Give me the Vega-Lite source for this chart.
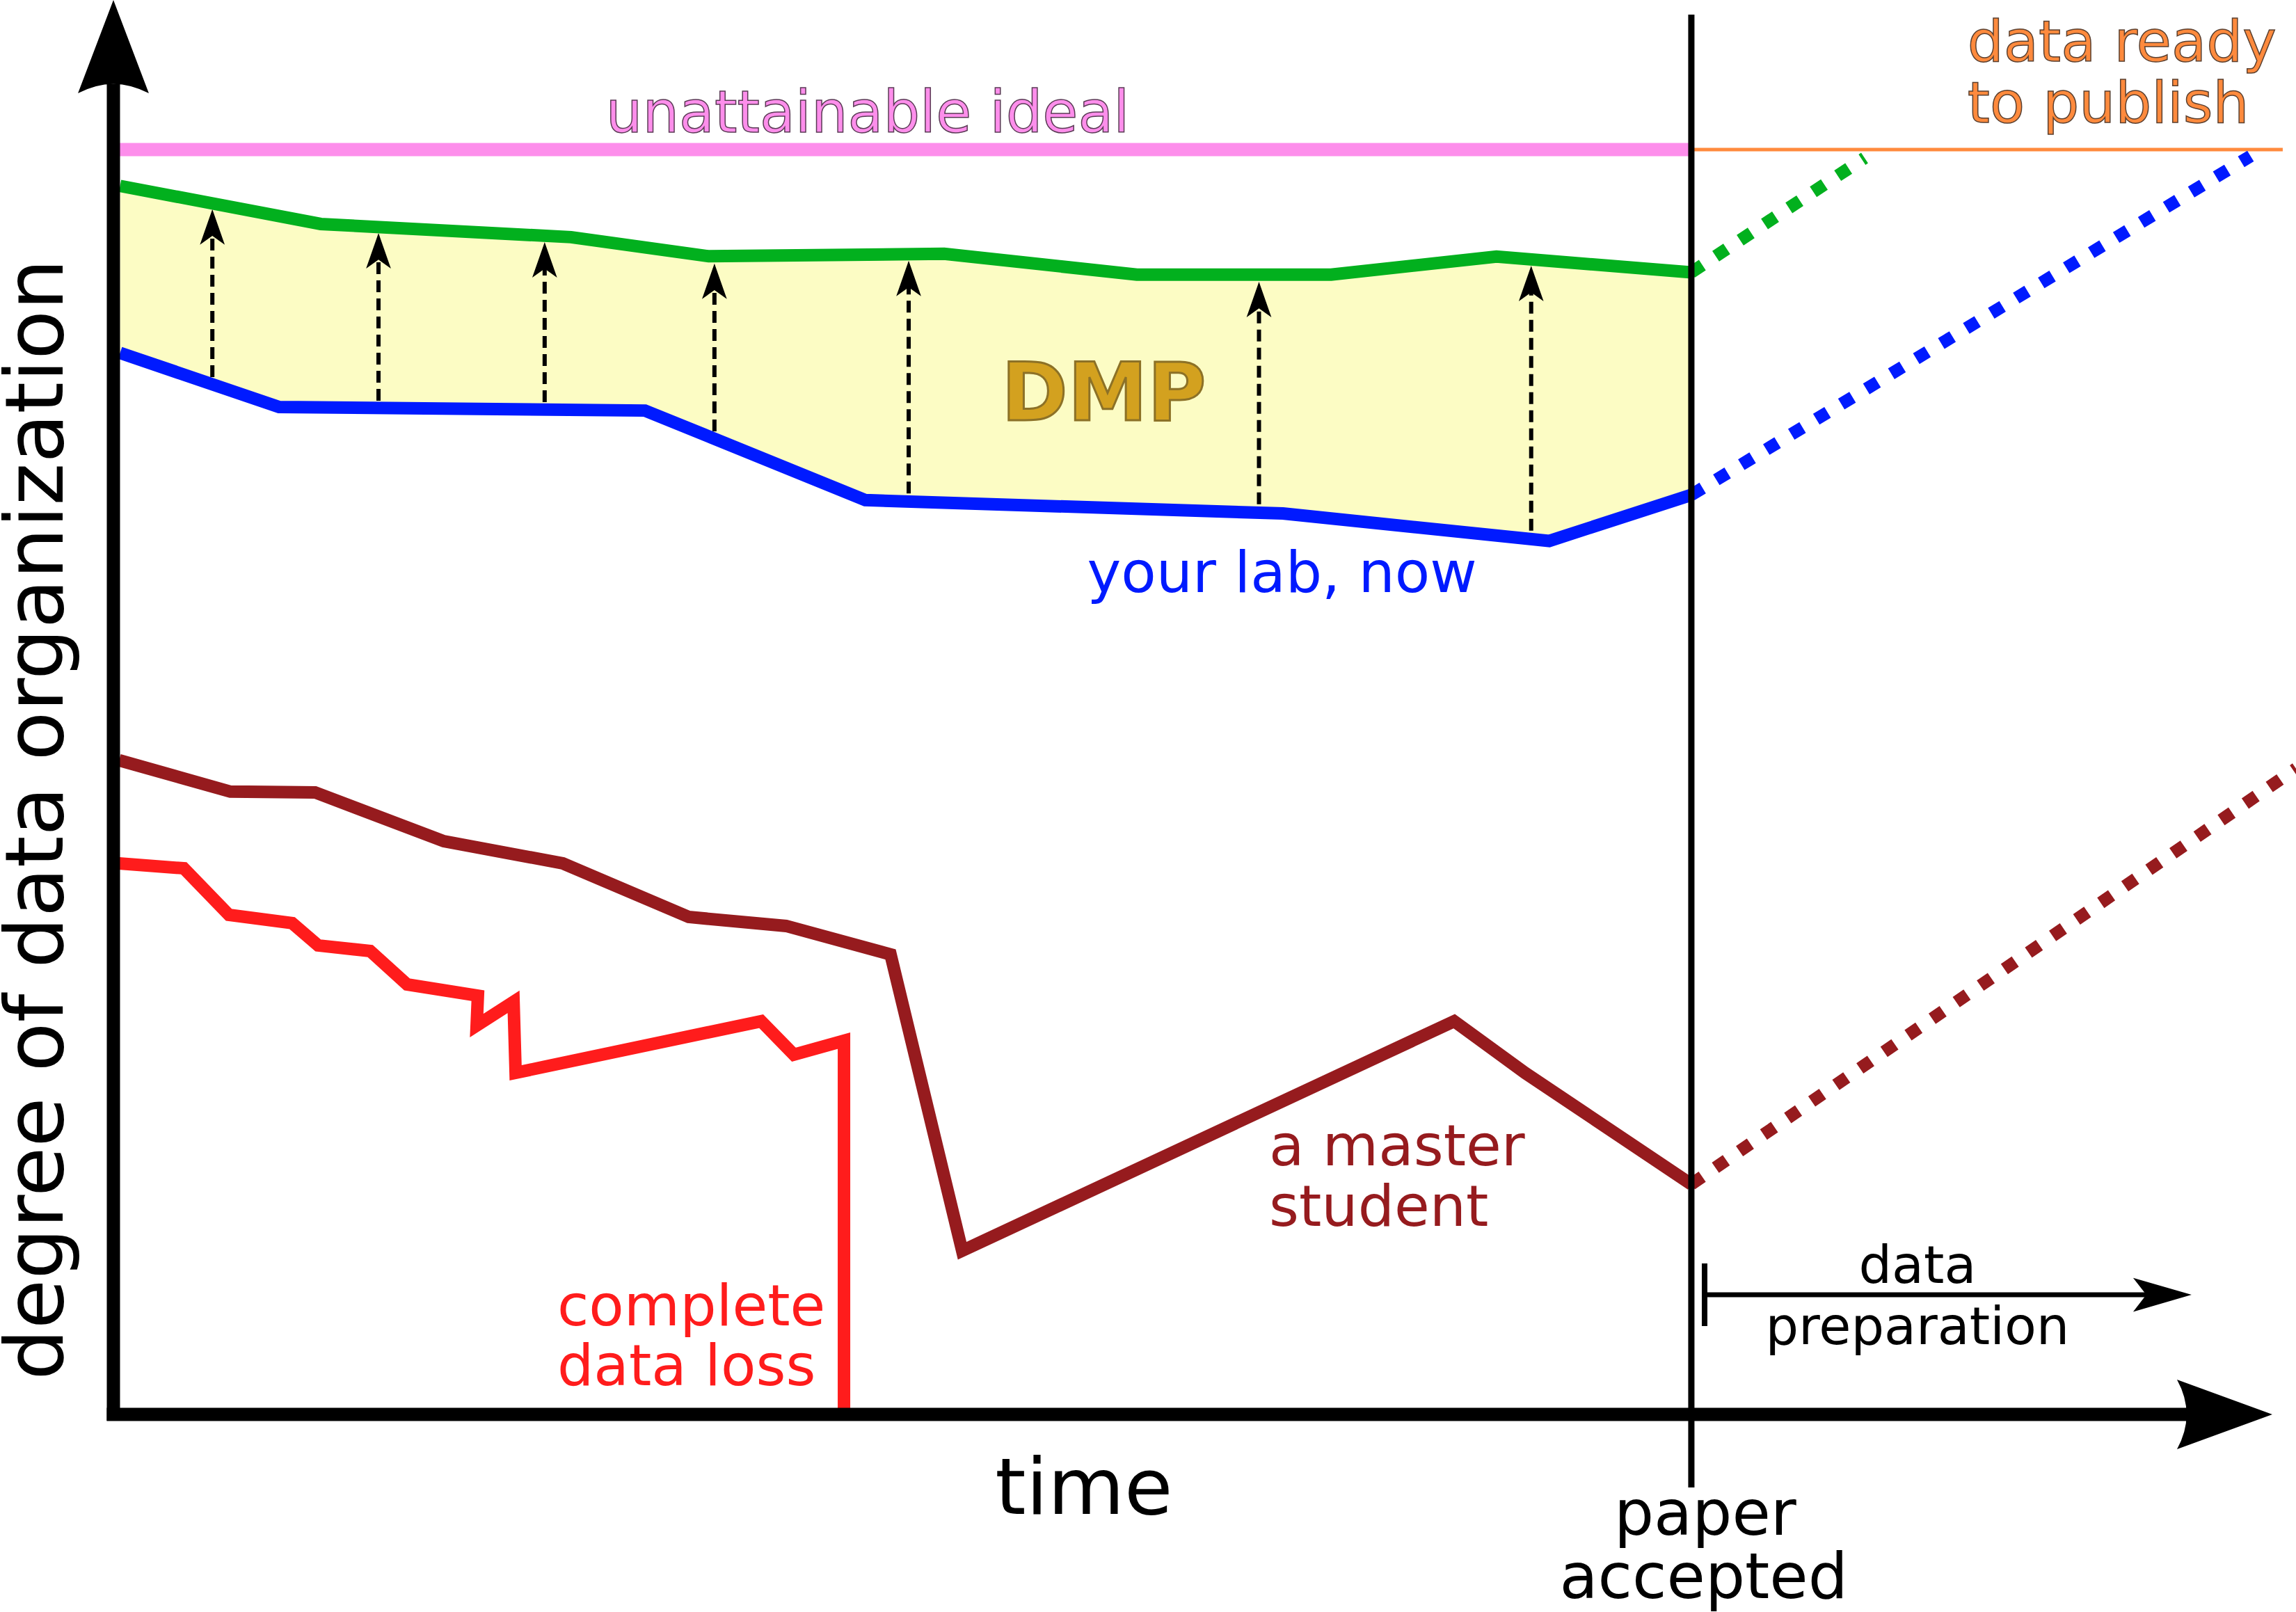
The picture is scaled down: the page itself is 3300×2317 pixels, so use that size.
{
  "$schema": "https://vega.github.io/schema/vega-lite/v6.json",
  "width": 3300,
  "height": 2317,
  "autosize": {"type": "none"},
  "padding": 0,
  "background": "white",
  "config": {"view": {"stroke": null}},
  "datasets": {
    "fill": [
      {"i": 0, "x": 0.42, "y": 97.13}, {"i": 1, "x": 13.14, "y": 94.12}, {"i": 2, "x": 29.0, "y": 93.08},
      {"i": 3, "x": 37.73, "y": 91.57}, {"i": 4, "x": 52.65, "y": 91.76}, {"i": 5, "x": 64.86, "y": 90.12},
      {"i": 6, "x": 77.17, "y": 90.12}, {"i": 7, "x": 87.65, "y": 91.54}, {"i": 8, "x": 100, "y": 90.3},
      {"i": 9, "x": 100, "y": 72.7}, {"i": 10, "x": 90.99, "y": 69.06}, {"i": 11, "x": 74.12, "y": 71.23},
      {"i": 12, "x": 47.65, "y": 72.29}, {"i": 13, "x": 33.69, "y": 79.37}, {"i": 14, "x": 10.5, "y": 79.65},
      {"i": 15, "x": 0.42, "y": 83.93}
    ],
    "lines": [
      {"series": "green", "i": 0, "x": 0.42, "y": 97.13}, {"series": "green", "i": 1, "x": 13.14, "y": 94.12},
      {"series": "green", "i": 2, "x": 29.0, "y": 93.08}, {"series": "green", "i": 3, "x": 37.73, "y": 91.57},
      {"series": "green", "i": 4, "x": 52.65, "y": 91.76}, {"series": "green", "i": 5, "x": 64.86, "y": 90.12},
      {"series": "green", "i": 6, "x": 77.17, "y": 90.12}, {"series": "green", "i": 7, "x": 87.65, "y": 91.54},
      {"series": "green", "i": 8, "x": 100, "y": 90.3},
      {"series": "blue", "i": 0, "x": 0.42, "y": 83.93}, {"series": "blue", "i": 1, "x": 10.5, "y": 79.65},
      {"series": "blue", "i": 2, "x": 33.69, "y": 79.37}, {"series": "blue", "i": 3, "x": 47.65, "y": 72.29},
      {"series": "blue", "i": 4, "x": 74.12, "y": 71.23}, {"series": "blue", "i": 5, "x": 90.99, "y": 69.06},
      {"series": "blue", "i": 6, "x": 100, "y": 72.7},
      {"series": "darkred", "i": 0, "x": 0.36, "y": 51.72}, {"series": "darkred", "i": 1, "x": 7.41, "y": 49.24},
      {"series": "darkred", "i": 2, "x": 12.78, "y": 49.18}, {"series": "darkred", "i": 3, "x": 20.94, "y": 45.32},
      {"series": "darkred", "i": 4, "x": 28.48, "y": 43.57}, {"series": "darkred", "i": 5, "x": 36.46, "y": 39.33},
      {"series": "darkred", "i": 6, "x": 42.63, "y": 38.62}, {"series": "darkred", "i": 7, "x": 49.25, "y": 36.37},
      {"series": "darkred", "i": 8, "x": 53.79, "y": 12.94}, {"series": "darkred", "i": 9, "x": 84.97, "y": 31.09},
      {"series": "darkred", "i": 10, "x": 89.46, "y": 27.01}, {"series": "darkred", "i": 11, "x": 100, "y": 18.2},
      {"series": "red", "i": 0, "x": 0.36, "y": 43.57}, {"series": "red", "i": 1, "x": 4.46, "y": 43.18},
      {"series": "red", "i": 2, "x": 7.32, "y": 39.5}, {"series": "red", "i": 3, "x": 11.33, "y": 38.84},
      {"series": "red", "i": 4, "x": 12.97, "y": 37.08}, {"series": "red", "i": 5, "x": 16.27, "y": 36.64},
      {"series": "red", "i": 6, "x": 18.61, "y": 34.0}, {"series": "red", "i": 7, "x": 23.1, "y": 33.11},
      {"series": "red", "i": 8, "x": 23.02, "y": 30.75}, {"series": "red", "i": 9, "x": 25.36, "y": 32.63},
      {"series": "red", "i": 10, "x": 25.49, "y": 27.01}, {"series": "red", "i": 11, "x": 41.05, "y": 31.09},
      {"series": "red", "i": 12, "x": 43.12, "y": 28.45}, {"series": "red", "i": 13, "x": 46.3, "y": 29.55},
      {"series": "red", "i": 14, "x": 46.3, "y": 0}
    ],
    "dotted": [
      {"series": "green", "i": 0, "x": 100, "y": 90.3}, {"series": "green", "i": 1, "x": 110.98, "y": 99.34},
      {"series": "blue", "i": 0, "x": 100, "y": 72.7}, {"series": "blue", "i": 1, "x": 135.44, "y": 99.49},
      {"series": "darkred", "i": 0, "x": 100, "y": 18.2}, {"series": "darkred", "i": 1, "x": 138.32, "y": 51.06}
    ],
    "dashes": [
      {"x": 6.27, "y": 82.02, "y2": 93.28}, {"x": 16.8, "y": 80.15, "y2": 91.4},
      {"x": 27.33, "y": 80.04, "y2": 90.68}, {"x": 38.09, "y": 77.73, "y2": 88.99},
      {"x": 50.4, "y": 72.82, "y2": 89.22}, {"x": 72.6, "y": 71.96, "y2": 87.55},
      {"x": 89.85, "y": 69.87, "y2": 88.82}
    ],
    "heads": [
      {"x": 6.27, "y": 93.88}, {"x": 16.8, "y": 92.0}, {"x": 27.33, "y": 91.28}, {"x": 38.09, "y": 89.59},
      {"x": 50.4, "y": 89.82}, {"x": 72.6, "y": 88.15}, {"x": 89.85, "y": 89.42}
    ]
  },
  "encoding": {
    "x": {"field": "x", "type": "quantitative", "scale": {"domain": [-7.187, 138.32], "nice": false, "zero": false}, "axis": null},
    "y": {"field": "y", "type": "quantitative", "scale": {"domain": [-15.62, 111.83], "nice": false, "zero": false}, "axis": null}
  },
  "layer": [
    {
      "data": {"name": "fill"},
      "mark": {"type": "line", "fill": "#fcfcc4", "strokeOpacity": 0, "strokeWidth": 0},
      "encoding": {"order": {"field": "i", "type": "quantitative"}}
    },
    {
      "data": {"name": "dashes"},
      "mark": {"type": "rule", "color": "black", "strokeWidth": 6, "strokeDash": [17, 9]},
      "encoding": {"y2": {"field": "y2"}}
    },
    {
      "data": {"name": "heads"},
      "mark": {"type": "point", "filled": true, "opacity": 1, "color": "black", "strokeWidth": 0, "size": 2601, "shape": "M0,-1 L0.7,1 L0,0.5 L-0.7,1 Z"},
      "encoding": {}
    },
    {
      "data": {"values": [{"x": 0, "y": 100, "x2": 100}]},
      "mark": {"type": "rule", "color": "#fd8eeb", "strokeWidth": 19},
      "encoding": {"x2": {"field": "x2"}}
    },
    {
      "data": {"values": [{"x": 100, "y": 100, "x2": 137.48}]},
      "mark": {"type": "rule", "color": "#ff8a3d", "strokeWidth": 5},
      "encoding": {"x2": {"field": "x2"}}
    },
    {
      "data": {"name": "lines"},
      "mark": {"type": "line", "strokeWidth": 18, "strokeJoin": "miter", "strokeCap": "butt"},
      "encoding": {
        "order": {"field": "i", "type": "quantitative"},
        "color": {"field": "series", "type": "nominal", "legend": null,
          "scale": {"domain": ["green", "blue", "darkred", "red"], "range": ["#02b01e", "#001aff", "#961b1e", "#ff1c1c"]}}
      }
    },
    {
      "data": {"name": "dotted"},
      "mark": {"type": "line", "strokeWidth": 18, "strokeCap": "butt", "strokeDash": [19, 23]},
      "encoding": {
        "order": {"field": "i", "type": "quantitative"},
        "color": {"field": "series", "type": "nominal", "legend": null,
          "scale": {"domain": ["green", "blue", "darkred", "red"], "range": ["#02b01e", "#001aff", "#961b1e", "#ff1c1c"]}}
      }
    },
    {
      "data": {"values": [{"x": 100, "y": -5.78, "y2": 110.67}]},
      "mark": {"type": "rule", "color": "black", "strokeWidth": 9},
      "encoding": {"y2": {"field": "y2"}}
    },
    {
      "data": {"values": [{"x": 0, "y": -0.5, "y2": 105.2}]},
      "mark": {"type": "rule", "color": "black", "strokeWidth": 19},
      "encoding": {"y2": {"field": "y2"}}
    },
    {
      "data": {"values": [{"x": -0.42, "y": 0, "x2": 131.4}]},
      "mark": {"type": "rule", "color": "black", "strokeWidth": 19},
      "encoding": {"x2": {"field": "x2"}}
    },
    {
      "data": {"values": [{"x": 0, "y": 108.14}]},
      "mark": {"type": "point", "filled": true, "opacity": 1, "color": "black", "strokeWidth": 0, "size": 17956, "shape": "M0,-1 L0.76,1 Q0,0.6 -0.76,1 Z"},
      "encoding": {}
    },
    {
      "data": {"values": [{"x": 133.8, "y": 0}]},
      "mark": {"type": "point", "filled": true, "opacity": 1, "color": "black", "strokeWidth": 0, "size": 18769, "shape": "M1,0 L-1,0.73 Q-0.6,0 -1,-0.73 Z"},
      "encoding": {}
    },
    {
      "data": {"values": [{"x": 100.84, "y": 6.99, "y2": 11.94}]},
      "mark": {"type": "rule", "color": "black", "strokeWidth": 8},
      "encoding": {"y2": {"field": "y2"}}
    },
    {
      "data": {"values": [{"x": 100.84, "y": 9.46, "x2": 129.0}]},
      "mark": {"type": "rule", "color": "black", "strokeWidth": 7},
      "encoding": {"x2": {"field": "x2"}}
    },
    {
      "data": {"values": [{"x": 129.85, "y": 9.46}]},
      "mark": {"type": "point", "filled": true, "opacity": 1, "color": "black", "strokeWidth": 0, "size": 7056, "shape": "M1,0 L-1,0.58 L-0.55,0 L-1,-0.58 Z"},
      "encoding": {}
    },
    {
      "data": {"values": [{"x": 47.8, "y": 101.38, "label": "unattainable ideal"}]},
      "mark": {"type": "text", "font": "DejaVu Sans", "fontSize": 83, "align": "center", "baseline": "alphabetic", "fill": "#fd8eeb", "stroke": "#5a3a55", "strokeWidth": 1.5},
      "encoding": {"text": {"field": "label"}}
    },
    {
      "data": {"values": [{"x": 117.5, "y": 106.99, "label": "data ready"}, {"x": 117.5, "y": 102.15, "label": "to publish"}]},
      "mark": {"type": "text", "font": "DejaVu Sans", "fontSize": 82, "align": "left", "baseline": "alphabetic", "fill": "#ff8a3d", "stroke": "#5a4030", "strokeWidth": 1.5},
      "encoding": {"text": {"field": "label"}}
    },
    {
      "data": {"values": [{"x": 62.76, "y": 78.6, "label": "DMP"}]},
      "mark": {"type": "text", "font": "DejaVu Sans", "fontSize": 115, "fontWeight": "bold", "align": "center", "baseline": "alphabetic", "fill": "#d3a11f", "stroke": "#8c7127", "strokeWidth": 3},
      "encoding": {"text": {"field": "label"}}
    },
    {
      "data": {"values": [{"x": 61.71, "y": 65.02, "label": "your lab, now"}]},
      "mark": {"type": "text", "font": "DejaVu Sans", "fontSize": 82.5, "align": "left", "baseline": "alphabetic", "color": "#001aff"},
      "encoding": {"text": {"field": "label"}}
    },
    {
      "data": {"values": [{"x": 73.24, "y": 19.71, "label": "a master"}, {"x": 73.24, "y": 14.91, "label": "student"}]},
      "mark": {"type": "text", "font": "DejaVu Sans", "fontSize": 82.5, "align": "left", "baseline": "alphabetic", "color": "#961b1e"},
      "encoding": {"text": {"field": "label"}}
    },
    {
      "data": {"values": [{"x": 28.13, "y": 7.06, "label": "complete"}, {"x": 28.13, "y": 2.33, "label": "data loss"}]},
      "mark": {"type": "text", "font": "DejaVu Sans", "fontSize": 82.5, "align": "left", "baseline": "alphabetic", "color": "#ff1c1c"},
      "encoding": {"text": {"field": "label"}}
    },
    {
      "data": {"values": [{"x": 114.33, "y": 10.4, "label": "data"}, {"x": 114.33, "y": 5.56, "label": "preparation"}]},
      "mark": {"type": "text", "font": "DejaVu Sans", "fontSize": 75, "align": "center", "baseline": "alphabetic", "color": "black"},
      "encoding": {"text": {"field": "label"}}
    },
    {
      "data": {"values": [{"x": 100.88, "y": -9.52, "label": "paper"}, {"x": 100.78, "y": -14.52, "label": "accepted"}]},
      "mark": {"type": "text", "font": "DejaVu Sans", "fontSize": 90, "align": "center", "baseline": "alphabetic", "color": "black"},
      "encoding": {"text": {"field": "label"}}
    },
    {
      "data": {"values": [{"x": 61.51, "y": -7.87, "label": "time"}]},
      "mark": {"type": "text", "font": "DejaVu Sans", "fontSize": 113, "align": "center", "baseline": "alphabetic", "color": "black"},
      "encoding": {"text": {"field": "label"}}
    },
    {
      "data": {"values": [{"x": -3.2, "y": 47.03, "label": "degree of data organization"}]},
      "mark": {"type": "text", "font": "DejaVu Sans", "fontSize": 116, "angle": 270, "align": "center", "baseline": "alphabetic", "color": "black"},
      "encoding": {"text": {"field": "label"}}
    }
  ]
}
